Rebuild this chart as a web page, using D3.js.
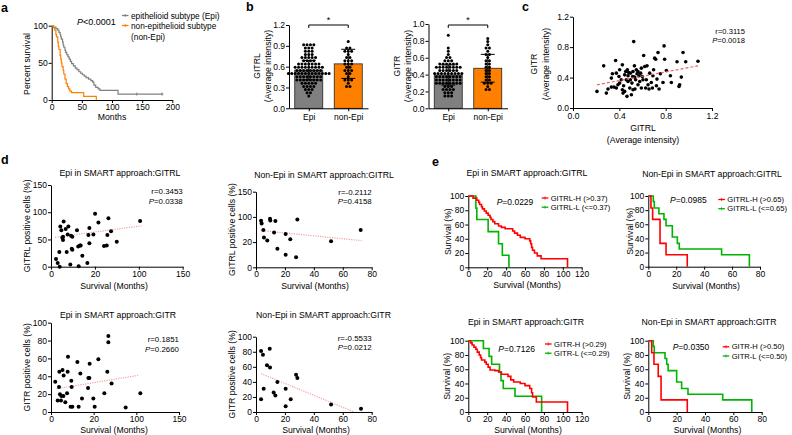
<!DOCTYPE html>
<html><head><meta charset="utf-8">
<script src="https://cdn.jsdelivr.net/npm/d3@7"></script>
<style>body{margin:0;background:#fff}svg{display:block}text{font-family:"Liberation Sans",Arial,sans-serif;fill:#000}</style>
</head><body><svg id="c" width="792" height="435"></svg>
<script>
// ---------- DATA ----------
// Panel a: Kaplan-Meier [months, % survival]
const aEpi = [[0,100],[3,98],[7,96],[10,94],[12,91],[14,88],[15,85],[16,82],[18,78],[19,74],[20,71],[22,67],[23,64],[25,61],[27,58],[29,55],[31,52],[33,49],[36,46],[39,43],[42,41],[45,38],[48,36],[51,34],[54,32],[57,30],[61,28],[65,26],[68,24],[70,20],[73,17],[77,15],[80,13],[110,8],[185,8]];
const aNonEpi = [[0,100],[3,97],[5,94],[7,88],[8,85],[10,78],[11,72],[12,68],[14,60],[15,55],[16,50],[17,45],[19,40],[20,35],[22,28],[24,22],[26,18],[28,15],[30,12],[33,10],[53,5],[74,5],[74,0]];
const aEpiCensor = [[141,8],[183,8]];
const aXTicks = [0,50,100,150,200];
const aYTicks = [0,50,100];

// Panel b: dot plots with mean and SD
const bGroups = ["Epi","non-Epi"];
const bGitrlEpi = [0.93,0.92,0.91,0.9,0.88,0.86,0.85,0.83,0.82,0.8,0.78,0.77,0.76,0.75,0.74,0.73,0.72,0.71,0.7,0.69,0.68,0.67,0.66,0.66,0.65,0.64,0.63,0.62,0.62,0.61,0.6,0.6,0.59,0.59,0.58,0.58,0.57,0.57,0.56,0.56,0.55,0.55,0.54,0.54,0.53,0.53,0.52,0.52,0.52,0.51,0.51,0.5,0.5,0.5,0.49,0.49,0.48,0.48,0.48,0.47,0.47,0.46,0.46,0.45,0.45,0.44,0.44,0.43,0.43,0.42,0.42,0.41,0.4,0.4,0.39,0.38,0.37,0.36,0.35,0.34,0.33,0.32,0.31,0.3,0.29,0.28,0.26,0.24,0.22,0.2];
const bGitrlNonEpi = [0.95,0.88,0.86,0.84,0.82,0.8,0.78,0.75,0.72,0.7,0.69,0.67,0.65,0.63,0.62,0.6,0.58,0.56,0.55,0.53,0.51,0.48,0.46,0.43,0.42,0.4,0.37,0.33,0.3];
const bGitrlMean = [0.55,0.64];
const bGitrlSD = [0.14,0.21];
const bGitrlTicks = [0,0.3,0.6,0.9,1.2];
const bGitrEpi = [0.87,0.72,0.68,0.65,0.62,0.6,0.58,0.56,0.55,0.54,0.53,0.52,0.52,0.51,0.51,0.5,0.5,0.49,0.49,0.48,0.48,0.47,0.47,0.46,0.46,0.45,0.45,0.44,0.44,0.43,0.43,0.42,0.42,0.41,0.41,0.4,0.4,0.4,0.39,0.39,0.38,0.38,0.37,0.37,0.36,0.36,0.35,0.35,0.34,0.34,0.33,0.33,0.32,0.32,0.31,0.31,0.3,0.3,0.29,0.29,0.28,0.28,0.27,0.26,0.25,0.24,0.23,0.22,0.21,0.2,0.19,0.18,0.16,0.14,0.13];
const bGitrNonEpi = [0.82,0.78,0.74,0.72,0.7,0.66,0.65,0.63,0.6,0.58,0.56,0.54,0.52,0.5,0.48,0.46,0.44,0.42,0.4,0.38,0.36,0.35,0.33,0.31,0.3,0.28,0.26,0.24,0.22];
const bGitrMean = [0.395,0.475];
const bGitrSD = [0.12,0.165];
const bGitrTicks = [0,0.2,0.4,0.6,0.8,1.0];

// Panel c: GITRL vs GITR
const cPoints = [[0.207,0.218],[0.265,0.554],[0.288,0.196],[0.302,0.249],[0.331,0.275],[0.368,0.624],[0.34,0.45],[0.354,0.275],[0.374,0.262],[0.388,0.305],[0.397,0.415],[0.403,0.502],[0.417,0.371],[0.426,0.567],[0.432,0.196],[0.437,0.292],[0.446,0.436],[0.455,0.48],[0.46,0.371],[0.466,0.153],[0.469,0.502],[0.475,0.349],[0.48,0.467],[0.49,0.262],[0.495,0.458],[0.504,0.175],[0.509,0.327],[0.515,0.415],[0.518,0.48],[0.524,0.873],[0.53,0.554],[0.535,0.249],[0.541,0.371],[0.547,0.502],[0.553,0.45],[0.561,0.305],[0.57,0.423],[0.576,0.349],[0.584,0.458],[0.59,0.262],[0.599,0.415],[0.61,0.69],[0.619,0.545],[0.627,0.262],[0.633,0.371],[0.639,0.554],[0.648,0.305],[0.656,0.249],[0.662,0.458],[0.676,0.336],[0.685,0.262],[0.696,0.502],[0.705,0.655],[0.714,0.641],[0.725,0.38],[0.734,0.729],[0.743,0.249],[0.754,0.45],[0.777,0.336],[0.786,0.816],[0.791,0.641],[0.806,0.493],[0.841,0.423],[0.849,0.336],[0.898,0.607],[0.915,0.284],[0.921,0.305],[0.935,0.406],[0.95,0.729],[0.973,0.607],[1.079,0.615],[0.403,0.327],[0.446,0.218],[0.475,0.423],[0.495,0.371],[0.532,0.406],[0.59,0.524],[0.426,0.24],[0.374,0.458],[0.518,0.24],[0.561,0.48],[0.604,0.371],[0.69,0.423],[0.72,0.292],[0.331,0.393]];
const cTrend = [[0.207,0.305],[1.079,0.554]];
const cTicks = [0,0.4,0.8,1.2];

// Panel d: survival (months) vs positive cells (%)
const dEpiGitrl = [[5.7,14],[7.6,7],[9.5,27],[9.9,0],[10.6,74],[11.8,67],[12.9,53],[13.7,49],[13.7,55],[14.4,83],[16.7,69],[17.9,27],[19,59],[19.8,74],[22,4],[22.8,57],[23.6,33],[24.3,55],[24.3,31],[29.6,67],[31,37],[31.5,1],[33,39],[33.8,39],[35.7,20],[41.4,7],[42.6,58],[43.7,71],[43.7,43],[48.3,59],[50.2,97],[54,81],[60.4,38],[63.5,39],[65.4,89],[64.2,58],[68.4,65],[74.9,46],[101.5,84]];
const dEpiGitrlTrend = [[4.6,54],[103,75]];
const dNonEpiGitrl = [[3.5,92.5],[3.9,87],[5.1,74],[5.5,59],[7.8,53],[9.7,96.5],[9.9,93],[13.4,92],[12.5,69],[14.8,37],[20.5,66],[20.5,25],[23.7,55.5],[27.7,20],[28.6,95],[51.9,51.5],[72.4,74]];
const dNonEpiGitrlTrend = [[3,73],[73,53]];
const dEpiGitr = [[5,34],[7.8,13],[9.4,28],[9.8,45],[10.5,20],[11.7,13],[12.1,18],[13.5,47],[14.5,18],[14.8,41],[16.8,11],[18.8,21],[19.5,45],[19.9,62],[23,6],[23.8,35],[24.2,28],[25,6],[30.9,56],[32.4,6],[34.4,43],[36.3,15],[43.4,27],[43.8,38],[45,38],[45.3,54],[49.6,15],[51.2,6],[55.5,59],[62.5,21],[66,45],[67.2,85],[67.2,78],[71,32],[87.5,5],[104.7,21]];
const dEpiGitrTrend = [[6.6,26],[102,41]];
const dNonEpiGitr = [[3.5,81],[3.5,17],[4.8,76],[5.3,31],[7.6,62],[9.5,84],[9.7,59],[12.2,26],[13.4,22],[14.8,40],[20.5,31],[20.5,7.5],[24,17],[27.7,49.6],[28.6,45],[51.9,10],[72.6,4.4]];
const dNonEpiGitrTrend = [[3.5,51],[68,0]];
const dLongTicks = [0,50,100,150];
const dLongLabels = ["0","20","100","150"];
const dShortTicks = [0,20,40,60,80];
const dPctTicks = [0,20,40,60,80,100];

// Panel e: Kaplan-Meier [months, % survival]
const eEpiGitrlH = [[0,100],[5,97],[9,94],[11,91],[12,88],[14,85],[15,82],[17,79],[19,76],[21,73],[23,70],[24,67],[26,64],[28,61],[32,58],[35,56],[39,54],[47,51],[49,48],[52,45],[55,42],[60,40],[65,37],[66,33],[67,28],[68,24],[70,20],[73,16],[77,12],[105,12],[105,0]];
const eEpiGitrlL = [[0,100],[8,83],[9,67],[21,50],[32,33],[36,17],[43,17],[43,0]];
const eNonEpiGitrlH = [[0,100],[1.9,83],[3.1,67],[8.4,33],[12.7,17],[27.9,17],[27.9,0]];
const eNonEpiGitrlL = [[0,100],[3.6,92],[4.3,83],[7.6,75],[11.2,67],[12.7,58],[17.2,42],[20.8,33],[22.2,25],[52.5,17],[72.4,17],[72.4,0]];
const eEpiGitrH = [[0,100],[2.5,97],[4,94],[6,91],[8,88],[9.5,84],[11.5,80],[13,76],[14,73],[17.5,70],[19,67],[21,63],[23,59],[28,58],[32,56],[35,53],[42,50],[45,45],[48,42],[55,40],[60,37],[65,33],[67,27],[68,21],[72,14],[105,14],[105,0]];
const eEpiGitrL = [[0,100],[16,89],[22,78],[24.7,67],[33,56],[34.6,44],[37,33],[49.4,22],[77.6,22],[77.6,0]];
const eNonEpiGitrH = [[0,100],[2.4,83],[4,67],[7,50],[9,17],[27.5,17],[27.5,0]];
const eNonEpiGitrL = [[0,100],[3.5,92],[4.2,83],[11.8,75],[13,67],[14,58],[20,42],[23.5,33],[28,25],[52.5,17],[73,17],[73,0]];
const eLongTicks = [0,20,40,60,80,100,120];
const eShortTicks = [0,20,40,60,80];

// ---------- DRAWING ----------
const svg = d3.select("#c");
const FONT = "Liberation Sans, Arial, sans-serif";
const RED = "#FF0000", GREEN = "#00B400", ORANGE = "#FF8000", GRAY = "#808080";

function text(x, y, s, o = {}) {
  const t = svg.append("text").attr("font-size", o.size || 8.7)
    .attr("text-anchor", o.anchor || "start").attr("dominant-baseline", "central")
    .attr("font-weight", o.weight || "normal");
  if (o.rot) t.attr("transform", `translate(${x},${y}) rotate(-90)`); else t.attr("x", x).attr("y", y);
  if (o.italicP) { t.append("tspan").attr("font-style", "italic").text("P"); t.append("tspan").text(s); }
  else t.text(s);
  return t;
}
function axes(x, y, xt, xl, yt, yl, pad = 1) {
  const gx = svg.append("g").attr("transform", `translate(0,${y.range()[0]})`)
    .call(d3.axisBottom(x).tickValues(xt).tickSize(3).tickSizeOuter(0).tickPadding(pad).tickFormat((d, i) => xl[i]));
  const gy = svg.append("g").attr("transform", `translate(${x.range()[0]},0)`)
    .call(d3.axisLeft(y).tickValues(yt).tickSize(3).tickSizeOuter(0).tickPadding(1).tickFormat((d, i) => yl[i]));
  [gx, gy].forEach(g => {
    g.attr("font-size", 8.5).attr("font-family", FONT);
    g.selectAll("path,line").attr("stroke", "#000").attr("stroke-width", 1);
    g.selectAll("text").attr("fill", "#000");
  });
}
function km(x, y, data, color, w = 1.5) {
  svg.append("path").datum(data)
    .attr("d", d3.line().x(d => x(d[0])).y(d => y(d[1])).curve(d3.curveStepAfter))
    .attr("fill", "none").attr("stroke", color).attr("stroke-width", w);
}
function legendSym(x1, x2, y, color) {
  svg.append("line").attr("x1", x1).attr("x2", x2).attr("y1", y).attr("y2", y).attr("stroke", color).attr("stroke-width", 1.3);
  svg.append("line").attr("x1", (x1 + x2) / 2).attr("x2", (x1 + x2) / 2).attr("y1", y - 1.5).attr("y2", y + 1.5).attr("stroke", color).attr("stroke-width", 0.8);
}
function dots(x, y, data, r = 2) {
  svg.append("g").selectAll("circle").data(data).join("circle")
    .attr("cx", d => x(d[0])).attr("cy", d => y(d[1])).attr("r", r).attr("fill", "#000");
}
function trend(x, y, data, color, dash) {
  svg.append("path").datum(data).attr("d", d3.line().x(d => x(d[0])).y(d => y(d[1])))
    .attr("stroke", color).attr("stroke-width", 1.2).attr("stroke-dasharray", dash).attr("fill", "none");
}
const fmt = v => String(v);

// Panel letters
text(1, 8, "a", {size: 12.5, weight: "bold"});
text(246, 7, "b", {size: 12.5, weight: "bold"});
text(522, 7, "c", {size: 12.5, weight: "bold"});
text(1, 160, "d", {size: 12.5, weight: "bold"});
text(432, 162, "e", {size: 12.5, weight: "bold"});

// ---- Panel a ----
{
  const x = d3.scaleLinear().domain([0, 200]).range([51.7, 172.3]);
  const y = d3.scaleLinear().domain([0, 100]).range([100, 25.7]);
  axes(x, y, aXTicks, aXTicks.map(fmt), aYTicks, aYTicks.map(fmt));
  km(x, y, aEpi, GRAY, 1.2);
  km(x, y, aNonEpi, ORANGE, 1.2);
  aEpiCensor.forEach(d => svg.append("line").attr("x1", x(d[0])).attr("x2", x(d[0])).attr("y1", y(d[1]) - 1.5).attr("y2", y(d[1]) + 1.5).attr("stroke", GRAY));
  text(26.7, 64, "Percent survival", {rot: true, anchor: "middle"});
  text(112, 117, "Months", {anchor: "middle"});
  text(77, 22, "<0.0001", {italicP: true, size: 9});
  legendSym(122, 128.5, 15.5, GRAY);
  text(131, 15.5, "epithelioid subtype (Epi)", {size: 8.3});
  legendSym(122, 128.5, 25.5, ORANGE);
  text(131, 25.5, "non-epithelioid subtype", {size: 8.3});
  text(131, 36.5, "(non-Epi)", {size: 8.3});
}

// ---- Panel b ----
function barPanel(x0, yTop, yMax, ticks, tickFmt, epi, nonEpi, means, sds, lab) {
  const x = d3.scalePoint().domain(bGroups).range([x0, x0 + 79]).padding(0.5);
  const y = d3.scaleLinear().domain([0, yMax]).range([108.3, yTop]);
  const bw = 28;
  bGroups.forEach((g, i) => {
    svg.append("rect").attr("x", x(g) - bw / 2).attr("y", y(means[i])).attr("width", bw)
      .attr("height", y(0) - y(means[i])).attr("fill", i ? ORANGE : GRAY).attr("stroke", "#222").attr("stroke-width", 0.8);
  });
  [epi, nonEpi].forEach((vals, i) => {
    const cx = x(bGroups[i]);
    const rowH = 3.2, sp = 3.4;
    const rows = d3.group(vals, v => Math.round(y(v) / rowH));
    rows.forEach((arr, k) => {
      arr.forEach((v, j) => {
        svg.append("circle").attr("cx", cx + (j - (arr.length - 1) / 2) * sp).attr("cy", k * rowH).attr("r", 1.5).attr("fill", "#000");
      });
    });
  });
  bGroups.forEach((g, i) => {
    const cx = x(g);
    const lo = y(means[i] - sds[i]), hi = y(means[i] + sds[i]);
    svg.append("line").attr("x1", cx).attr("x2", cx).attr("y1", lo).attr("y2", hi).attr("stroke", "#000").attr("stroke-width", 1);
    [lo, hi].forEach(yy => svg.append("line").attr("x1", cx - 7).attr("x2", cx + 7).attr("y1", yy).attr("y2", yy).attr("stroke", "#000").attr("stroke-width", 1));
  });
  axes(x, y, bGroups, bGroups, ticks, ticks.map(tickFmt), 3);
  const by = 25;
  svg.append("path").attr("d", `M${x(bGroups[0])},${by + 3}V${by}H${x(bGroups[1])}V${by + 3}`)
    .attr("fill", "none").attr("stroke", "#000").attr("stroke-width", 1);
  text((x(bGroups[0]) + x(bGroups[1])) / 2, by - 5, "*", {anchor: "middle", size: 9});
  text(x0 - 32, 66, lab, {rot: true, anchor: "middle"});
  text(x0 - 21, 66, "(Average intensity)", {rot: true, anchor: "middle"});
}
barPanel(289, 25, 1.2, bGitrlTicks, d3.format(".1f"), bGitrlEpi, bGitrlNonEpi, bGitrlMean, bGitrlSD, "GITRL");
barPanel(428.5, 24, 1.0, bGitrTicks, d3.format(".1f"), bGitrEpi, bGitrNonEpi, bGitrMean, bGitrSD, "GITR");

// ---- Panel c ----
{
  const x = d3.scaleLinear().domain([0, 1.2]).range([573, 712]);
  const y = d3.scaleLinear().domain([0, 1.2]).range([108, 16.7]);
  axes(x, y, cTicks, cTicks.map(d3.format(".1f")), cTicks, cTicks.map(d3.format(".1f")), 2);
  dots(x, y, cPoints, 1.8);
  trend(x, y, cTrend, "#F06060", "3,2");
  text(643, 128, "GITRL", {anchor: "middle"});
  text(643, 140, "(Average intensity)", {anchor: "middle"});
  text(534, 64, "GITR", {rot: true, anchor: "middle"});
  text(546, 64, "(Average intensity)", {rot: true, anchor: "middle"});
  text(745, 31, "r=0.3115", {anchor: "end", size: 7.6});
  text(745, 40, "=0.0018", {anchor: "end", size: 7.6, italicP: true});
}

// ---- Panel d ----
function scatterPanel(o) {
  const x = d3.scaleLinear().domain([0, o.xMax]).range(o.xr);
  const y = d3.scaleLinear().domain([0, o.yMax]).range(o.yr);
  axes(x, y, o.xt, o.xl, o.yt, o.yl, o.pad || 1);
  trend(x, y, o.trend, "#F4A0A0", "1.2,1.2");
  dots(x, y, o.data, 2);
  text(o.titleX, o.titleY, o.title, {anchor: "middle"});
  text(o.xlabX, o.xlabY, "Survival (Months)", {anchor: "middle"});
  text(o.ylabX, (o.yr[0] + o.yr[1]) / 2, o.ylab, {rot: true, anchor: "middle"});
  text(o.xr[1], o.rY, o.r, {anchor: "end", size: 7.9});
  text(o.xr[1], o.rY + 9.4, o.p, {anchor: "end", size: 7.9, italicP: true});
}
scatterPanel({xMax: 150, xr: [51, 182.7], yMax: 150, yr: [266.7, 185], xt: dLongTicks, xl: dLongLabels,
  yt: dLongTicks, yl: ["0","50","100","150"], data: dEpiGitrl, trend: dEpiGitrlTrend,
  title: "Epi in SMART approach:GITRL", titleX: 120, titleY: 173.3, xlabX: 114, xlabY: 285.7, ylabX: 26.7,
  ylab: "GITRL positive cells (%)", r: "r=0.3453", p: "=0.0338", rY: 191.5});
scatterPanel({xMax: 80, xr: [256, 371.7], yMax: 150, yr: [267.3, 191.7], xt: dShortTicks, xl: dShortTicks.map(fmt),
  yt: dLongTicks, yl: ["0","20","100","150"], data: dNonEpiGitrl, trend: dNonEpiGitrlTrend,
  title: "Non-Epi in SMART approach:GITRL", titleX: 324, titleY: 175, xlabX: 315, xlabY: 285.7, ylabX: 232,
  ylab: "GITRL positive cells (%)", r: "r=-0.2112", p: "=0.4158", rY: 192});
scatterPanel({xMax: 150, xr: [51, 179], yMax: 100, yr: [412, 322.7], xt: dLongTicks, xl: dLongLabels,
  yt: dPctTicks, yl: dPctTicks.map(fmt), data: dEpiGitr, trend: dEpiGitrTrend, pad: 0.5,
  title: "Epi in SMART approach:GITR", titleX: 118, titleY: 315, xlabX: 114, xlabY: 429.8, ylabX: 26.7,
  ylab: "GITR positive cells (%)", r: "r=0.1851", p: "=0.2660", rY: 339.8});
scatterPanel({xMax: 80, xr: [256, 371.7], yMax: 100, yr: [412, 336.7], xt: dShortTicks, xl: dShortTicks.map(fmt),
  yt: dPctTicks, yl: dPctTicks.map(fmt), data: dNonEpiGitr, trend: dNonEpiGitrTrend, pad: 0.5,
  title: "Non-Epi in SMART approach:GITR", titleX: 323.5, titleY: 315, xlabX: 316, xlabY: 429.8, ylabX: 232,
  ylab: "GITR positive cells (%)", r: "r=-0.5533", p: "=0.0212", rY: 338});

// ---- Panel e ----
function kmPanel(o) {
  const x = d3.scaleLinear().domain([0, o.xMax]).range(o.xr);
  const y = d3.scaleLinear().domain([0, 100]).range(o.yr);
  axes(x, y, o.xt, o.xt.map(fmt), [0,20,40,60,80,100], ["0","20","40","60","80","100"], o.pad || 1);
  km(x, y, o.low, GREEN, 1.6);
  km(x, y, o.high, RED, 1.6);
  text(o.titleX, o.titleY, o.title, {anchor: "middle"});
  text(o.xlabX, o.xlabY, "Survival (Months)", {anchor: "middle"});
  text(o.ylabX, (o.yr[0] + o.yr[1]) / 2, "Survival (%)", {rot: true, anchor: "middle"});
  text(o.pX, o.pY, o.p, {italicP: true, size: 8.5});
  legendSym(o.lx, o.lx + 6.6, o.ly1, RED);
  text(o.lx + 9, o.ly1, o.hLab, {size: 7.6});
  legendSym(o.lx, o.lx + 6.6, o.ly2, GREEN);
  text(o.lx + 9, o.ly2, o.lLab, {size: 7.6});
}
kmPanel({xMax: 120, xr: [468.3, 581.7], yr: [267.3, 196], xt: eLongTicks, high: eEpiGitrlH, low: eEpiGitrlL,
  title: "Epi in SMART approach:GITRL", titleX: 527, titleY: 173.3, xlabX: 527, xlabY: 285, ylabX: 448,
  p: "=0.0229", pX: 496.7, pY: 202.3, lx: 541.7, ly1: 198, ly2: 207.2, hLab: "GITRL-H (>0.37)", lLab: "GITRL-L (<=0.37)"});
kmPanel({xMax: 80, xr: [648.3, 760], yr: [266.7, 196], xt: eShortTicks, high: eNonEpiGitrlH, low: eNonEpiGitrlL,
  title: "Non-Epi in SMART approach:GITRL", titleX: 712, titleY: 174, xlabX: 706, xlabY: 285.7, ylabX: 629.5,
  p: "=0.0985", pX: 670, pY: 200, lx: 718.3, ly1: 199.5, ly2: 208.7, hLab: "GITRL-H (>0.65)", lLab: "GITRL-L (<=0.65)"});
kmPanel({xMax: 120, xr: [468.3, 581.7], yr: [412, 340.7], xt: eLongTicks, high: eEpiGitrH, low: eEpiGitrL, pad: 0,
  title: "Epi in SMART approach:GITR", titleX: 526, titleY: 322.3, xlabX: 528, xlabY: 429.8, ylabX: 446.7,
  p: "=0.7126", pX: 498.3, pY: 349.3, lx: 545, ly1: 344, ly2: 353.2, hLab: "GITR-H (>0.29)", lLab: "GITR-L (<=0.29)"});
kmPanel({xMax: 80, xr: [648.3, 761.7], yr: [412, 340.7], xt: eShortTicks, high: eNonEpiGitrH, low: eNonEpiGitrL, pad: 0,
  title: "Non-Epi in SMART approach:GITR", titleX: 709, titleY: 322.3, xlabX: 707.5, xlabY: 429.8, ylabX: 627.3,
  p: "=0.0350", pX: 672.7, pY: 347.3, lx: 722.7, ly1: 346.8, ly2: 356, hLab: "GITR-H (>0.50)", lLab: "GITR-L (<=0.50)"});
</script></body></html>
